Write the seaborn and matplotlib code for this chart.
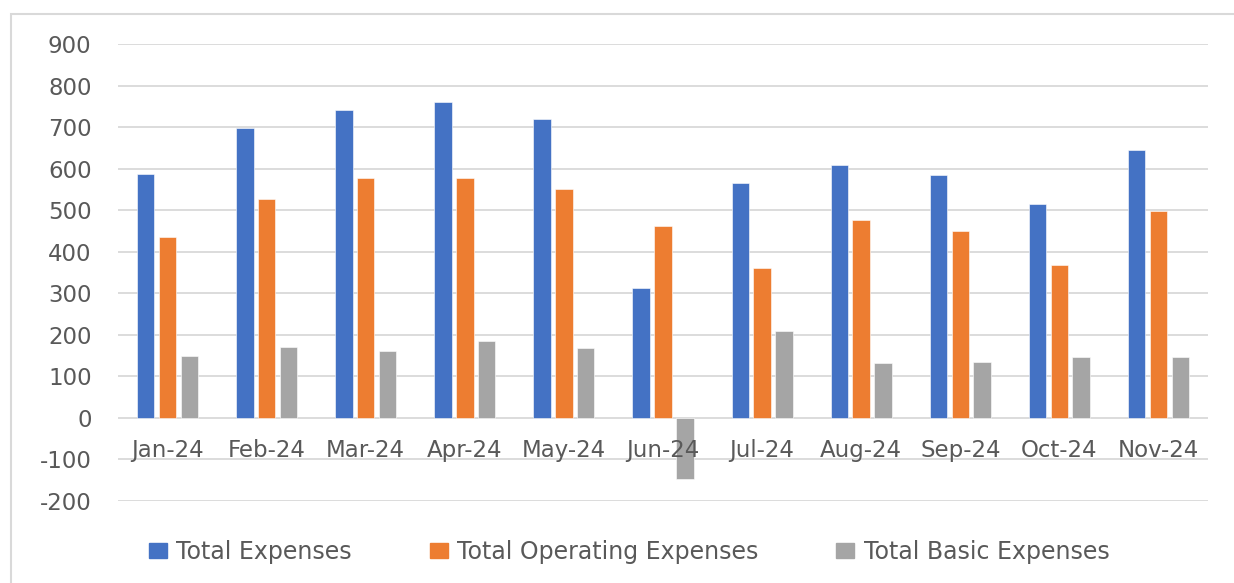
import matplotlib
matplotlib.use("Agg")
import matplotlib.pyplot as plt
import matplotlib.patches as mpatches
import pandas as pd
import seaborn as sns

months = ["Jan-24", "Feb-24", "Mar-24", "Apr-24", "May-24", "Jun-24",
          "Jul-24", "Aug-24", "Sep-24", "Oct-24", "Nov-24"]
total_expenses = [587, 699, 742, 760, 720, 312, 565, 608, 584, 516, 646]
operating_expenses = [436, 526, 578, 578, 551, 461, 360, 476, 449, 368, 498]
basic_expenses = [149, 171, 162, 184, 168, -146, 208, 131, 134, 146, 146]
series_names = ["Total Expenses", "Total Operating Expenses", "Total Basic Expenses"]
colors = ["#4472C4", "#ED7D31", "#A5A5A5"]

df = pd.DataFrame({
    "month": months * 3,
    "value": total_expenses + operating_expenses + basic_expenses,
    "series": [s for s in series_names for _ in months],
})

sns.set_style("white")
plt.rcParams["font.family"] = ["DejaVu Sans"]
plt.rcParams["axes.unicode_minus"] = False
text_col = "#595959"
fs = 16.5

fig = plt.figure(figsize=(12.34, 5.83), dpi=100)
ax = fig.add_axes([118 / 1234, 0.1407, 1090 / 1234, 0.7838])

sns.barplot(
    data=df, x="month", y="value", hue="series",
    order=months, hue_order=series_names, palette=colors,
    width=0.66, gap=0.2, saturation=1, legend=False, ax=ax,
    edgecolor="white", linewidth=0.4, zorder=3,
)

ax.set_ylim(-200, 900)
ax.set_xlim(-0.5, 10.5)
ax.set_yticks(range(-200, 901, 100))
ax.yaxis.grid(True, color="#d9d9d9", linewidth=1.3, zorder=0)
ax.set_axisbelow(True)
ax.tick_params(axis="y", length=0, pad=19, labelsize=fs, labelcolor=text_col)
ax.set_xticks([])
ax.set_xlabel("")
ax.set_ylabel("")
for sp in ax.spines.values():
    sp.set_visible(False)

for i, m in enumerate(months):
    ax.text(i, -78, m, ha="center", va="center", fontsize=fs, color=text_col)

# chart frame (only top and left edges show in the crop)
fig.patches.append(mpatches.Rectangle(
    (11 / 1234, -0.2), 1.2, 1.2 - 15 / 583 + 0.002, transform=fig.transFigure,
    fill=False, edgecolor="#d9d9d9", linewidth=1.5))

handles = [mpatches.Patch(color=c, label=s) for c, s in zip(colors, series_names)]
fig.legend(handles=handles, loc="center", bbox_to_anchor=(0.51, 0.053), ncol=3,
           frameon=False, fontsize=17, labelcolor=text_col, handlelength=0.75,
           handleheight=0.6, handletextpad=0.4, columnspacing=3.3)

fig.savefig("out.png", dpi=100)
